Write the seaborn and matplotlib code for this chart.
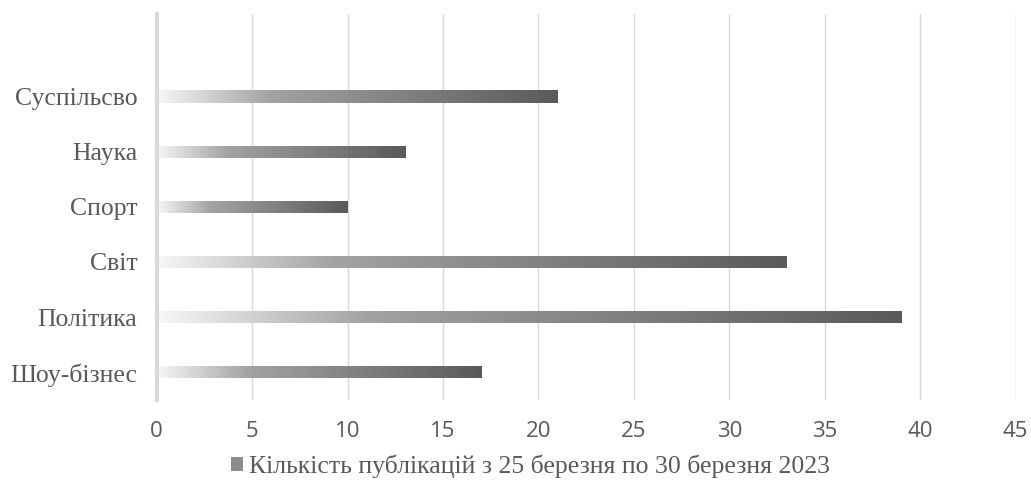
import numpy as np
import pandas as pd
import matplotlib
matplotlib.use("Agg")
import matplotlib.pyplot as plt
from matplotlib.colors import LinearSegmentedColormap
from matplotlib.patches import Patch
import seaborn as sns

# data
categories = ["Суспільсво", "Наука", "Спорт", "Світ", "Політика", "Шоу-бізнес"]
values = [21, 13, 10, 33, 39, 17]
legend_label = "Кількість публікацій з 25 березня по 30 березня 2023"

df = pd.DataFrame({"category": categories, "value": values})

sns.set_theme(style="white")
serif = ["Liberation Serif", "DejaVu Serif"]
sans = ["Open Sans", "DejaVu Sans"]

fig = plt.figure(figsize=(10.31, 4.93), dpi=100)
ax = fig.add_axes([0.152, 0.189, 0.833, 0.783])

sns.barplot(data=df, x="value", y="category", order=categories, orient="h",
            width=0.22, color="#808080", ax=ax)

# gradient fill, white -> dark gray, along each bar
cmap = LinearSegmentedColormap.from_list(
    "grad", [(0, "#f7f7f7"), (0.28, "#a3a3a3"), (1.0, "#5a5a5a")])
grad = np.linspace(0, 1, 256).reshape(1, -1)
for p in ax.patches:
    x0, y0 = p.get_x(), p.get_y()
    w, h = p.get_width(), p.get_height()
    im = ax.imshow(grad, cmap=cmap, aspect="auto", extent=[x0, x0 + w, y0 + h, y0],
                   zorder=2, interpolation="bilinear")
    im.set_clip_path(p)
    p.set_facecolor("none")
    p.set_edgecolor("none")

ax.set_xlim(0, 45)
ax.set_ylim(len(categories) - 0.5, -1.5)
ax.set_xticks(range(0, 46, 5))
ax.set_xlabel("")
ax.set_ylabel("")

ax.grid(axis="x", color="#d9d9d9", linewidth=1)
ax.set_axisbelow(True)
for s in ["top", "right", "bottom"]:
    ax.spines[s].set_visible(False)
ax.spines["left"].set_color("#d9d9d9")
ax.spines["left"].set_linewidth(3)
ax.spines["left"].set_zorder(3)

ax.tick_params(axis="x", length=0, pad=15, labelsize=16, colors="#595959")
ax.tick_params(axis="y", length=0, pad=14, labelsize=18.5, colors="#595959")
for t in ax.get_xticklabels():
    t.set_fontfamily(sans)
for t in ax.get_yticklabels():
    t.set_fontfamily(serif)

# legend: small square + label
handle = Patch(facecolor="#8c8c8c", edgecolor="none")
fig.legend([handle], [legend_label], loc="center", bbox_to_anchor=(0.515, 0.054),
           frameon=False, handlelength=0.45, handleheight=0.45, handletextpad=0.25,
           prop={"family": serif, "size": 18.5}, labelcolor="#595959")

fig.savefig("out.png", dpi=100)
